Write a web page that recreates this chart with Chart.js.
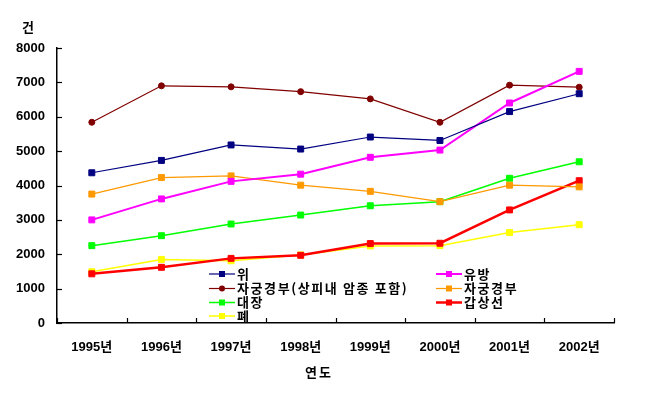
<!DOCTYPE html>
<html><head><meta charset="utf-8">
<script src="https://cdn.jsdelivr.net/npm/chart.js@4.4.0/dist/chart.umd.min.js"></script>
<style>html,body{margin:0;padding:0;background:#fff}#wrap{width:668px;height:402px;position:relative}</style>
</head><body><div id="wrap"><canvas id="c" width="668" height="402"></canvas></div>
<script>
const categories = ['1995년','1996년','1997년','1998년','1999년','2000년','2001년','2002년'];
const stomach   = [4370,4730,5180,5060,5410,5310,6150,6670]; // 위
const breast    = [3000,3610,4120,4330,4820,5030,6400,7320]; // 유방
const cervixCIS = [5840,6900,6870,6730,6520,5840,6920,6860]; // 자궁경부(상피내 암종 포함)
const cervix    = [3750,4230,4280,4010,3830,3530,4010,3960]; // 자궁경부
const colon     = [2250,2540,2880,3140,3410,3530,4210,4690]; // 대장
const thyroid   = [1430,1620,1880,1970,2310,2320,3290,4140]; // 갑상선
const lung      = [1490,1850,1810,1980,2240,2250,2630,2860]; // 폐
const yTicks = [0,1000,2000,3000,4000,5000,6000,7000,8000];
const yTitle = '건';
const xTitle = '연도';

const FONT = '"Liberation Sans", "Noto Sans CJK KR", sans-serif';
const KFONT = '"Noto Sans CJK KR", "Liberation Sans", sans-serif';

function ds(label, data, color, width, style, r){
  return {label, data, borderColor: color, backgroundColor: color, borderWidth: width,
    pointStyle: style, pointRadius: r, pointHoverRadius: r, pointBorderWidth: 1,
    pointBackgroundColor: color, pointBorderColor: color, tension: 0, fill: false};
}
const datasets = [
  ds('위', stomach, '#000080', 1.2, 'rect', 4.2),
  ds('유방', breast, '#FF00FF', 2, 'rect', 4.2),
  ds('자궁경부(상피내 암종 포함)', cervixCIS, '#800000', 1.2, 'circle', 3),
  ds('자궁경부', cervix, '#FF9900', 1.2, 'rect', 4.2),
  ds('대장', colon, '#00FF00', 1.5, 'rect', 4.2),
  ds('갑상선', thyroid, '#FF0000', 2.5, 'rect', 4.2),
  ds('폐', lung, '#FFFF00', 1.5, 'rect', 4.2)
];
const legendLeft = [0,2,4,6];
const legendRight = [1,3,5];

const extras = {
  id: 'extras',
  afterDraw(chart){
    const ctx = chart.ctx, xs = chart.scales.x, ys = chart.scales.y, ca = chart.chartArea;
    ctx.save();
    ctx.strokeStyle = '#000'; ctx.lineWidth = 1.2;
    yTicks.forEach(v => {
      const y = Math.round(ys.getPixelForValue(v)) + 0.5;
      ctx.beginPath(); ctx.moveTo(ca.left, y); ctx.lineTo(ca.left + 5, y); ctx.stroke();
    });
    const n = categories.length;
    const half = (xs.getPixelForValue(1) - xs.getPixelForValue(0)) / 2;
    for (let i = 0; i <= n; i++) {
      const x = Math.round(xs.getPixelForValue(i) - half) + 0.5;
      ctx.beginPath(); ctx.moveTo(x, ca.bottom); ctx.lineTo(x, ca.bottom - 5); ctx.stroke();
    }
    ctx.fillStyle = '#000';
    ctx.font = 'bold 13px ' + KFONT;
    ctx.textAlign = 'center'; ctx.textBaseline = 'middle';
    ctx.fillText(yTitle, 28, 27);
    ctx.letterSpacing = '2px';
    ctx.fillText(xTitle, 319, 372);
    function entry(idx, x0, y){
      const d = chart.data.datasets[idx];
      ctx.strokeStyle = d.borderColor; ctx.lineWidth = d.borderWidth;
      ctx.beginPath(); ctx.moveTo(x0, y); ctx.lineTo(x0 + 26, y); ctx.stroke();
      ctx.fillStyle = d.borderColor;
      const cx = x0 + 13;
      if (d.pointStyle === 'circle') { ctx.beginPath(); ctx.arc(cx, y, 3, 0, Math.PI*2); ctx.fill(); }
      else { ctx.fillRect(cx - 3, y - 3, 6, 6); }
      ctx.fillStyle = '#000';
      ctx.textAlign = 'left';
      ctx.font = 'bold 13px ' + KFONT;
      ctx.letterSpacing = '1.6px';
      ctx.fillText(d.label, x0 + 28, y);
    }
    const rows = [274, 288.5, 302.5, 316];
    legendLeft.forEach((idx, i) => entry(idx, 209, rows[i]));
    legendRight.forEach((idx, i) => entry(idx, 436, rows[i]));
    ctx.restore();
  }
};

new Chart(document.getElementById('c'), {
  type: 'line',
  data: { labels: categories, datasets },
  options: {
    responsive: false, animation: false,
    layout: { padding: { top: 48, right: 54, left: 0, bottom: 0 } },
    plugins: { legend: { display: false }, tooltip: { enabled: false } },
    scales: {
      x: {
        offset: true,
        grid: { display: false, drawTicks: false },
        border: { display: true, color: '#000', width: 1.5 },
        ticks: { color: '#000', font: { family: FONT, size: 13, weight: 'bold' }, padding: 17, maxRotation: 0 },
        afterFit(s){ s.height = 79; }
      },
      y: {
        min: 0, max: 8000,
        afterBuildTicks(s){ s.ticks = yTicks.map(v => ({ value: v })); },
        grid: { display: false, drawTicks: false },
        border: { display: true, color: '#000', width: 1.5 },
        ticks: { color: '#000', font: { family: FONT, size: 13, weight: 'bold' }, padding: 12,
          callback: v => String(v) },
        afterFit(s){ s.width = 57; }
      }
    }
  },
  plugins: [extras]
});
</script></body></html>
